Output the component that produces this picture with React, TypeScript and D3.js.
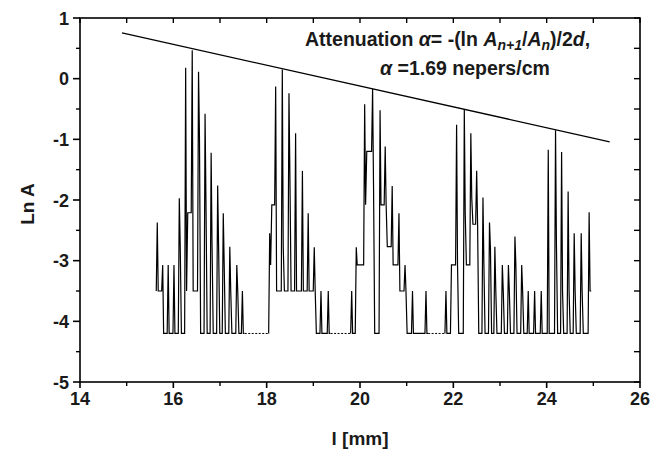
import React from "react";
import * as d3 from "d3";

// ---- data ----
const xTicksMajor = [14, 16, 18, 20, 22, 24, 26];
const xTicksMinor = [15, 17, 19, 21, 23, 25];
const yTicksMajor = [-5, -4, -3, -2, -1, 0, 1];
const yTicksMinor = [-4.5, -3.5, -2.5, -1.5, -0.5, 0.5];

// fitted attenuation line (l in mm, Ln A)
const fitL = [14.9, 25.35];
const fitV = [0.753, -1.04];

// spikes of the signal, per burst: position, peak, value right after peak, value before next spike
const burstStart = [-3.5, -4.2, -4.2, -4.2];
const burst1L = [15.656, 15.772, 15.89, 16.014, 16.128, 16.264, 16.405, 16.54, 16.68, 16.81, 16.95, 17.07, 17.21, 17.36, 17.48];
const burst1P = [-2.37, -3.07, -3.07, -3.07, -1.97, 0.18, 0.47, 0.115, -0.58, -1.22, -1.76, -2.22, -2.77, -3.07, -3.5];
const burst1M = [-3.5, -4.2, -4.2, -4.2, -2.77, -3.5, -3.5, -0.96, -2.08, -2.77, -2.77, -3.07, -3.5, -3.5, -4.2];
const burst1B = [-3.5, -4.2, -4.2, -4.2, -4.2, -2.21, -3.5, -4.2, -4.2, -4.2, -4.2, -4.2, -4.2, -4.2, -4.2];

const burst2L = [18.065, 18.193, 18.335, 18.478, 18.62, 18.766, 18.89, 19.02, 19.164, 19.32];
const burst2P = [-2.55, -0.13, 0.15, -0.24, -0.9, -1.52, -2.22, -2.78, -3.5, -3.5];
const burst2M = [-3.07, -3.5, -2.77, -1.6, -3.5, -3.5, -3.5, -3.5, -4.2, -4.2];
const burst2B = [-2.08, -3.5, -3.5, -3.5, -3.5, -3.5, -3.5, -4.2, -4.2, -4.2];

const burst3L = [19.822, 19.92, 20.1, 20.27, 20.43, 20.54, 20.69, 20.835, 20.965, 21.125, 21.414];
const burst3P = [-3.5, -2.78, -0.42, -0.17, -0.52, -1.12, -1.77, -2.22, -3.07, -3.5, -3.5];
const burst3M = [-4.2, -3.07, -2.08, -1.77, -2.08, -2.08, -3.07, -3.5, -3.5, -4.2, -4.2];
const burst3B = [-4.2, -3.07, -1.2, -4.2, -2.08, -2.77, -3.07, -3.5, -4.2, -4.2, -4.2];

const burst4L = [21.842, 21.96, 22.07, 22.235, 22.375, 22.5, 22.635, 22.775, 22.89, 23.05, 23.18, 23.32, 23.465, 23.605, 23.742, 23.884, 24.034, 24.19, 24.32, 24.46, 24.59, 24.74, 24.91];
const burst4P = [-3.5, -3.07, -0.76, -0.5, -0.9, -1.52, -1.96, -2.37, -2.77, -3.07, -3.07, -2.6, -3.07, -3.5, -3.5, -3.5, -1.17, -0.85, -1.21, -1.86, -2.55, -2.55, -2.2];
const burst4M = [-4.2, -3.07, -3.07, -2.22, -1.97, -2.4, -3.07, -2.79, -3.5, -3.5, -3.5, -3.07, -3.5, -4.2, -4.2, -4.2, -4.2, -2.77, -3.5, -3.5, -3.5, -3.5, -3.5];
const burst4B = [-4.2, -3.07, -4.2, -3.07, -2.4, -4.2, -4.2, -4.2, -4.2, -4.2, -4.2, -4.2, -4.2, -4.2, -4.2, -4.2, -4.2, -4.2, -4.2, -4.2, -4.2, -4.2, -3.5];

// quiet stretches between bursts (drawn dotted at the floor)
const quietStart = [17.53, 19.37, 21.46];
const quietEnd = [18.04, 19.8, 21.82];
const floorV = -4.2;

const W = 662;
const H = 452;
const M = { left: 80, right: 22, top: 18, bottom: 70 };

export default function App() {
  const x = d3.scaleLinear().domain([14, 26]).range([M.left, W - M.right]);
  const y = d3.scaleLinear().domain([-5, 1]).range([H - M.bottom, M.top]);
  const line = d3
    .line<[number, number]>()
    .x((d) => x(d[0]))
    .y((d) => y(d[1]));

  const bursts = [
    [burst1L, burst1P, burst1M, burst1B],
    [burst2L, burst2P, burst2M, burst2B],
    [burst3L, burst3P, burst3M, burst3B],
    [burst4L, burst4P, burst4M, burst4B],
  ];

  const burstPaths = bursts.map(([L, P, Mi, B], bi) => {
    const pts: [number, number][] = [];
    let prev = burstStart[bi];
    L.forEach((l, i) => {
      pts.push([l - 0.022, prev]);
      pts.push([l, P[i]]);
      pts.push([l + 0.02, Mi[i]]);
      pts.push([l + 0.045, B[i]]);
      prev = B[i];
    });
    return line(pts) as string;
  });

  const x0 = M.left;
  const x1 = W - M.right;
  const y0 = H - M.bottom;
  const y1 = M.top;
  const font = "'Liberation Sans', Arial, Helvetica, sans-serif";
  const tickFs = 18;
  const ink = "#1a1a1a";

  return (
    <svg
      width={W}
      height={H}
      style={{ position: "absolute", left: 0, top: 0, background: "#fff" }}
      fontFamily={font}
    >
      {/* signal */}
      {burstPaths.map((d, i) => (
        <path key={"b" + i} d={d} fill="none" stroke="#000" strokeWidth={1.2} strokeLinejoin="miter" strokeMiterlimit={2} />
      ))}
      {quietStart.map((s, i) => (
        <line
          key={"q" + i}
          x1={x(s)}
          x2={x(quietEnd[i])}
          y1={y(floorV)}
          y2={y(floorV)}
          stroke="#000"
          strokeWidth={1}
          strokeDasharray="2 1.5"
        />
      ))}
      {/* fit line */}
      <line x1={x(fitL[0])} y1={y(fitV[0])} x2={x(fitL[1])} y2={y(fitV[1])} stroke="#000" strokeWidth={1.3} />

      {/* frame */}
      <rect x={x0} y={y1} width={x1 - x0} height={y0 - y1} fill="none" stroke="#000" strokeWidth={1.6} />

      {/* bottom ticks (out) */}
      {xTicksMajor.map((t) => (
        <line key={"xb" + t} x1={x(t)} x2={x(t)} y1={y0} y2={y0 + 6} stroke="#000" strokeWidth={1.6} />
      ))}
      {xTicksMinor.map((t) => (
        <line key={"xbm" + t} x1={x(t)} x2={x(t)} y1={y0} y2={y0 + 4} stroke="#000" strokeWidth={1.4} />
      ))}
      {/* top ticks (in) */}
      {[...xTicksMajor, ...xTicksMinor].map((t) => (
        <line key={"xt" + t} x1={x(t)} x2={x(t)} y1={y1} y2={y1 + 5} stroke="#000" strokeWidth={1.4} />
      ))}
      {/* left ticks (out) */}
      {yTicksMajor.map((t) => (
        <line key={"yl" + t} x1={x0 - 7} x2={x0} y1={y(t)} y2={y(t)} stroke="#000" strokeWidth={1.6} />
      ))}
      {yTicksMinor.map((t) => (
        <line key={"ylm" + t} x1={x0 - 4} x2={x0} y1={y(t)} y2={y(t)} stroke="#000" strokeWidth={1.4} />
      ))}
      {/* right ticks (in) */}
      {[...yTicksMajor, ...yTicksMinor].map((t) => (
        <line key={"yr" + t} x1={x1 - 6} x2={x1} y1={y(t)} y2={y(t)} stroke="#000" strokeWidth={1.4} />
      ))}

      {/* tick labels */}
      {xTicksMajor.map((t) => (
        <text key={"xl" + t} x={x(t)} y={y0 + 23} textAnchor="middle" fontSize={tickFs} fontWeight="bold" fill={ink}>
          {t}
        </text>
      ))}
      {yTicksMajor.map((t) => (
        <text key={"yll" + t} x={x0 - 11} y={y(t) + 6.5} textAnchor="end" fontSize={tickFs} fontWeight="bold" fill={ink}>
          {t}
        </text>
      ))}

      {/* axis titles */}
      <text x={(x0 + x1) / 2} y={445} textAnchor="middle" fontSize={19} fontWeight="bold" fill={ink}>
        l [mm]
      </text>
      <text
        transform={`translate(34, ${(y0 + y1) / 2 + 4}) rotate(-90)`}
        textAnchor="middle"
        fontSize={19}
        fontWeight="bold"
        fill={ink}
      >
        Ln A
      </text>

      {/* annotation */}
      <text x={305} y={46} fontSize={19.5} fontWeight="bold" fill={ink}>
        Attenuation <tspan fontStyle="italic">α</tspan>= -(ln <tspan fontStyle="italic">A</tspan>
        <tspan fontStyle="italic" fontSize={14} dy={4}>n+1</tspan>
        <tspan dy={-4}>/</tspan>
        <tspan fontStyle="italic">A</tspan>
        <tspan fontStyle="italic" fontSize={14} dy={4}>n</tspan>
        <tspan dy={-4}>)/2</tspan>
        <tspan fontStyle="italic">d</tspan>,
      </text>
      <text x={380} y={75} fontSize={19.5} fontWeight="bold" fill={ink}>
        <tspan fontStyle="italic">α</tspan> =1.69 nepers/cm
      </text>
    </svg>
  );
}
